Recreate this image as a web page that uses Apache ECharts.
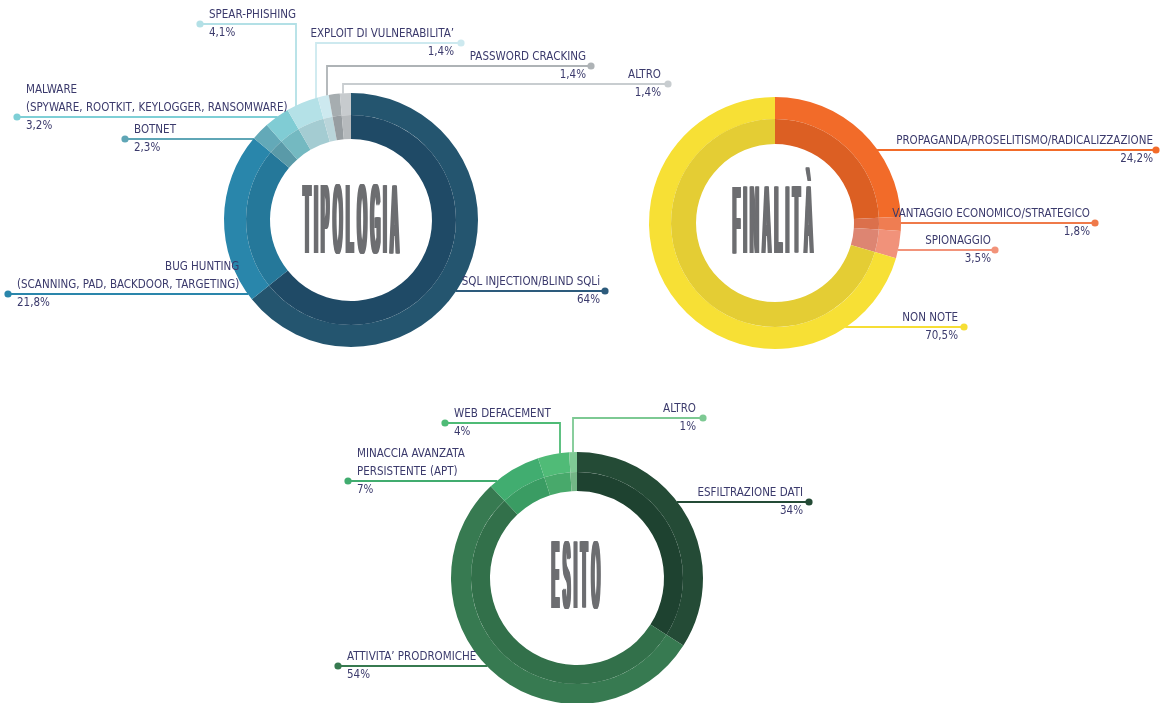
<!DOCTYPE html>
<html>
<head>
<meta charset="utf-8">
<title>Tipologia, finalità ed esito</title>
<script src="https://cdn.jsdelivr.net/npm/echarts@6/dist/echarts.min.js"></script>
<style>
  html, body { margin: 0; padding: 0; background: #ffffff; }
  #chart { width: 1165px; height: 703px; }
</style>
</head>
<body>
<div id="chart"></div>
<script>
// ---- data ----
const tipologiaNames = [
  'SQL INJECTION/BLIND SQLi',
  'BUG HUNTING\n(SCANNING, PAD, BACKDOOR, TARGETING)',
  'BOTNET',
  'MALWARE\n(SPYWARE, ROOTKIT, KEYLOGGER, RANSOMWARE)',
  'SPEAR-PHISHING',
  'EXPLOIT DI VULNERABILITA’',
  'PASSWORD CRACKING',
  'ALTRO'
];
const tipologiaValues = [64, 21.8, 2.3, 3.2, 4.1, 1.4, 1.4, 1.4];

const finalitaNames = [
  'PROPAGANDA/PROSELITISMO/RADICALIZZAZIONE',
  'VANTAGGIO ECONOMICO/STRATEGICO',
  'SPIONAGGIO',
  'NON NOTE'
];
const finalitaValues = [24.2, 1.8, 3.5, 70.5];

const esitoNames = [
  'ESFILTRAZIONE DATI',
  'ATTIVITA’ PRODROMICHE',
  'MINACCIA AVANZATA\nPERSISTENTE (APT)',
  'WEB DEFACEMENT',
  'ALTRO'
];
const esitoValues = [34, 54, 7, 4, 1];

// ---- styling / layout ----
const TEXT_COLOR = '#3b3a6c';
const TITLE_COLOR = '#6d6e71';
const LABEL_FONT = '"Liberation Sans Narrow", "DejaVu Sans Condensed", "Roboto", sans-serif';
const LABEL_SIZE = 11.5;

// side: where the dot sits; type 'h' = straight line, 'v' = goes up then sideways
const donuts = [
  {
    title: 'TIPOLOGIA', names: tipologiaNames, values: tipologiaValues,
    center: [351, 220], radii: [81, 105, 127],
    titleBox: { x: 351, y: 218, w: 98, h: 69 },
    outer: ['#24556f', '#2986ab', '#63a9b8', '#80ccd4', '#b4e1e7', '#cde9ef', '#a6adb0', '#c7cbce'],
    inner: ['#1f4a66', '#25789a', '#5a9aa8', '#74b9c1', '#a4ccd2', '#bad5da', '#979da1', '#b6babd'],
    lineCol: ['#2d5b7c', '#2a86ab', '#5fa6b6', '#7ecfd6', '#b3e0e6', '#cde9ef', '#aeb3b6', '#c8cdd0'],
    labels: [
      { side: 'R', type: 'h', dotX: 605, y: 291, gap: 5 },
      { side: 'L', type: 'h', dotX: 8, y: 294, nameRight: true },
      { side: 'L', type: 'h', dotX: 125, y: 139 },
      { side: 'L', type: 'h', dotX: 17, y: 117 },
      { side: 'L', type: 'v', ex: 296, dotX: 200, y: 24 },
      { side: 'R', type: 'v', ex: 316, dotX: 461, y: 43 },
      { side: 'R', type: 'v', ex: 327, dotX: 591, y: 66, gap: 5 },
      { side: 'R', type: 'v', ex: 343, dotX: 668, y: 84 }
    ]
  },
  {
    title: 'FINALITÀ', names: finalitaNames, values: finalitaValues,
    center: [775, 223], radii: [79, 104, 126],
    titleBox: { x: 773, y: 219, w: 82, h: 68 },
    outer: ['#f26b29', '#ef7d52', '#f1927a', '#f7e035'],
    inner: ['#dc5f23', '#db704c', '#dd8572', '#e4cd34'],
    lineCol: ['#f26b29', '#ef7a4a', '#f2937a', '#f6de35'],
    labels: [
      { side: 'R', type: 'h', dotX: 1156, y: 150, gap: 3 },
      { side: 'R', type: 'h', dotX: 1095, y: 223, gap: 5 },
      { side: 'R', type: 'h', dotX: 995, y: 250, gap: 4 },
      { side: 'R', type: 'h', dotX: 964, y: 327, gap: 6 }
    ]
  },
  {
    title: 'ESITO', names: esitoNames, values: esitoValues,
    center: [577, 578], radii: [87, 106, 126],
    titleBox: { x: 576, y: 574, w: 50, h: 68 },
    outer: ['#244b36', '#377a51', '#41ad70', '#50bb77', '#7fca95'],
    inner: ['#1e4230', '#32704a', '#3a9c63', '#48a96b', '#73b686'],
    lineCol: ['#244b36', '#377a50', '#41ac6f', '#4fbb76', '#7dc993'],
    labels: [
      { side: 'R', type: 'h', dotX: 809, y: 502, gap: 6 },
      { side: 'L', type: 'h', dotX: 338, y: 666 },
      { side: 'L', type: 'h', dotX: 348, y: 481 },
      { side: 'L', type: 'v', ex: 560, dotX: 445, y: 423 },
      { side: 'R', type: 'v', ex: 573, dotX: 703, y: 418 }
    ]
  }
];

function fmtPct(v) {
  return String(v).replace('.', ',') + '%';
}

function labelText(name, value, nameRight) {
  const nStyle = nameRight ? 'nr' : 'n';
  const lines = name.split('\n').map(l => '{' + nStyle + '|' + l + '}');
  return lines.join('\n') + '\n{v|' + fmtPct(value) + '}';
}

const rich = {
  n: { fontFamily: LABEL_FONT, fontSize: LABEL_SIZE, lineHeight: 18, color: TEXT_COLOR },
  nr: { fontFamily: LABEL_FONT, fontSize: LABEL_SIZE, lineHeight: 18, color: TEXT_COLOR, align: 'right' },
  v: { fontFamily: LABEL_FONT, fontSize: LABEL_SIZE, lineHeight: 18, color: TEXT_COLOR }
};

function makeLabelLayout(d) {
  const cx = d.center[0], cy = d.center[1], R = d.radii[2] - 0.5;
  return function (params) {
    const L = d.labels[params.dataIndex];
    let pts;
    if (L.type === 'h') {
      const dy = L.y - cy;
      const dx = Math.sqrt(Math.max(R * R - dy * dy, 0));
      const sx = L.side === 'R' ? cx + dx : cx - dx;
      pts = [[sx, L.y], [(sx + L.dotX) / 2, L.y], [L.dotX, L.y]];
    } else {
      const dx = L.ex - cx;
      const sy = cy - Math.sqrt(Math.max(R * R - dx * dx, 0));
      pts = [[L.ex, sy], [L.ex, L.y], [L.dotX, L.y]];
    }
    const gap = L.gap != null ? L.gap : (L.side === 'R' ? 7 : 9);
    return {
      x: L.side === 'R' ? L.dotX - gap : L.dotX + gap,
      y: L.y + 18,
      align: L.side === 'R' ? 'right' : 'left',
      verticalAlign: 'bottom',
      labelLinePoints: pts
    };
  };
}

const series = [];
const graphics = [];

donuts.forEach(function (d) {
  // outer ring, carrying the labels
  series.push({
    type: 'pie',
    center: d.center,
    radius: [d.radii[1], d.radii[2]],
    startAngle: 90,
    clockwise: true,
    avoidLabelOverlap: false,
    silent: true,
    animation: false,
    label: {
      show: true,
      position: 'outside',
      fontFamily: LABEL_FONT,
      fontSize: LABEL_SIZE,
      color: TEXT_COLOR,
      rich: rich
    },
    labelLine: { show: true, smooth: false, lineStyle: { width: 1.8 } },
    labelLayout: makeLabelLayout(d),
    data: d.names.map(function (n, i) {
      return {
        name: n,
        value: d.values[i],
        itemStyle: { color: d.outer[i] },
        label: { formatter: labelText(n, d.values[i], !!d.labels[i].nameRight) },
        labelLine: { lineStyle: { color: d.lineCol[i], width: 1.8 } }
      };
    })
  });
  // inner, darker ring
  series.push({
    type: 'pie',
    center: d.center,
    radius: [d.radii[0], d.radii[1]],
    startAngle: 90,
    clockwise: true,
    silent: true,
    animation: false,
    label: { show: false },
    labelLine: { show: false },
    data: d.names.map(function (n, i) {
      return { name: n, value: d.values[i], itemStyle: { color: d.inner[i] } };
    })
  });
  // end dots of the leader lines
  d.labels.forEach(function (L, i) {
    graphics.push({
      type: 'circle',
      shape: { cx: L.dotX, cy: L.y, r: 3.6 },
      style: { fill: d.lineCol[i] },
      silent: true,
      z: 10
    });
  });
});

// condensed tall titles in the donut holes, laid out letter by letter
const measureCtx = document.createElement('canvas').getContext('2d');
const TITLE_FONT = 'bold 40px "Liberation Sans", "DejaVu Sans", sans-serif';
measureCtx.font = TITLE_FONT;
measureCtx.textBaseline = 'middle';
measureCtx.textAlign = 'left';
const capM = measureCtx.measureText('H');
const capH = capM.actualBoundingBoxAscent + capM.actualBoundingBoxDescent;
const capMid = (capM.actualBoundingBoxDescent - capM.actualBoundingBoxAscent) / 2;
const LETTER_GAP = 1.8;   // space between letters, px
const THICKEN = 1.3;      // extra stem weight on each side, px

donuts.forEach(function (d) {
  const t = d.titleBox;
  const letters = Array.from(d.title);
  const ms = letters.map(function (ch) {
    const m = measureCtx.measureText(ch);
    return { ch: ch, left: m.actualBoundingBoxLeft, w: m.actualBoundingBoxLeft + m.actualBoundingBoxRight };
  });
  const n = letters.length;
  const sumW = ms.reduce(function (s, m) { return s + m.w; }, 0);
  const sx = (t.w - n * 2 * THICKEN - (n - 1) * LETTER_GAP) / sumW;
  const sy = t.h / capH;
  let cursor = t.x - t.w / 2;
  const yDraw = t.y - capMid * sy;
  ms.forEach(function (m) {
    const xCore = cursor + THICKEN + m.left * sx;
    [-THICKEN, -THICKEN / 2, 0, THICKEN / 2, THICKEN].forEach(function (o) {
      graphics.push({
        type: 'text',
        x: xCore + o,
        y: yDraw,
        scaleX: sx,
        scaleY: sy,
        silent: true,
        z: 5,
        style: {
          text: m.ch,
          font: TITLE_FONT,
          fill: TITLE_COLOR,
          align: 'left',
          verticalAlign: 'middle'
        }
      });
    });
    cursor += sx * m.w + 2 * THICKEN + LETTER_GAP;
  });
});

const chart = echarts.init(document.getElementById('chart'), null, { renderer: 'canvas' });
chart.setOption({
  backgroundColor: '#ffffff',
  animation: false,
  series: series,
  graphic: { elements: graphics }
});
</script>
</body>
</html>
